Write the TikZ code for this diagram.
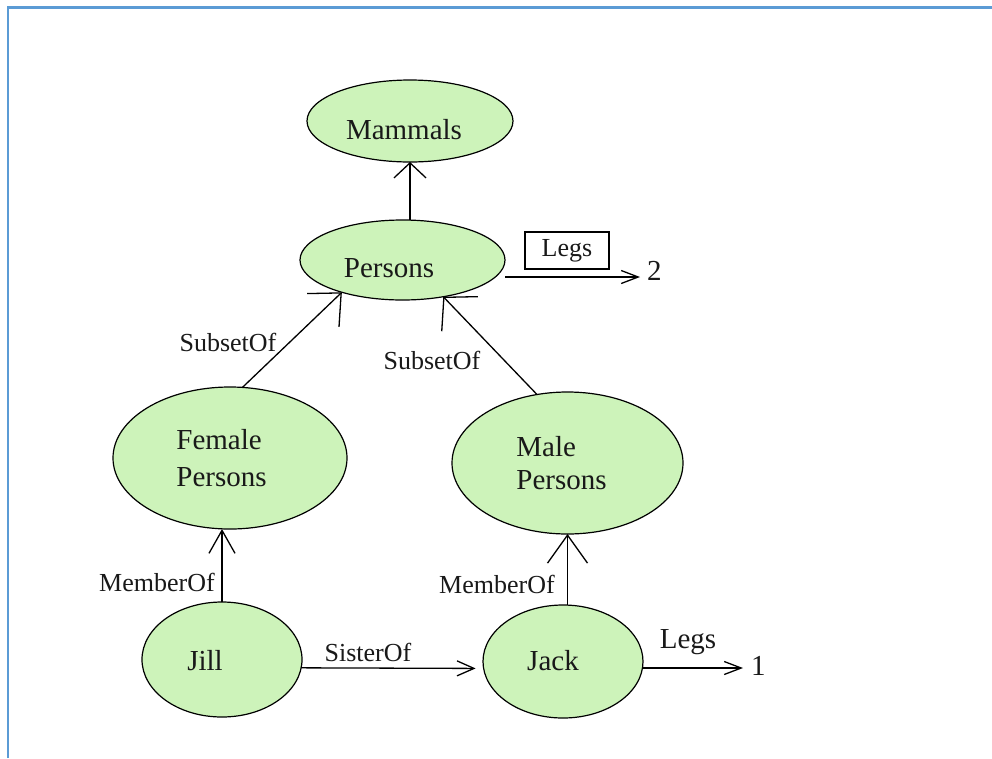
\documentclass[tikz,border=0pt]{standalone}
\usepackage{fontspec}
\setmainfont{Liberation Serif}
\usetikzlibrary{shapes.geometric,arrows.meta,calc}
\definecolor{nodegreen}{RGB}{205,243,186}
\definecolor{framebl}{RGB}{91,155,213}
\begin{document}
\begin{tikzpicture}[x=1pt,y=-1pt,
  ell/.style={ellipse,draw=black,line width=1.2pt,fill=nodegreen,inner sep=0pt,outer sep=0pt},
  ntext/.style={font=\fontsize{29}{35}\selectfont,inner sep=0pt,text=black!90},
  lab/.style={font=\fontsize{26}{31}\selectfont,inner sep=0pt,text=black!90},
  conn/.style={line width=1.3pt,black},
  arrM/.style={conn,-{Straight Barb[length=15pt,width=32pt]}},
  arrSub/.style={conn,-{Straight Barb[length=25pt,width=46pt]}},
  arrSubR/.style={conn,-{Straight Barb[length=23pt,width=50pt]}},
  arrMemL/.style={conn,-{Straight Barb[length=23pt,width=26pt]}},
  arrMemR/.style={conn,-{Straight Barb[length=28pt,width=40pt]}},
  arrS/.style={conn,-{Straight Barb[length=17pt,width=15pt]}},
  arrL/.style={conn,-{Straight Barb[length=17pt,width=13pt]}}]
\useasboundingbox (0,0) rectangle (992,758);
\draw[framebl,line width=2.5pt] (8,758) -- (8,7.5) -- (992,7.5);

% ellipses
\node[ell,minimum width=206pt,minimum height=82pt] (mammals) at (410,121) {};
\node[ell,minimum width=205pt,minimum height=80pt] (persons) at (402.5,260) {};
\node[ell,minimum width=234pt,minimum height=142pt] (female) at (230,458) {};
\node[ell,minimum width=231pt,minimum height=142pt] (male) at (567.5,463) {};
\node[ell,minimum width=160pt,minimum height=115pt] (jill) at (222,659.5) {};
\node[ell,minimum width=160pt,minimum height=113pt] (jack) at (563,661.5) {};

% node texts
\node[ntext] (mammalsT) at (404,130) {Mammals};
\node[ntext] (personsT) at (389,268) {Persons};
\node[ntext,align=left,font=\fontsize{29}{37}\selectfont] (femaleT) at (221.5,458.5) {Female\\Persons};
\node[ntext,align=left,font=\fontsize{29}{33}\selectfont] (maleT) at (561.5,463.5) {Male\\Persons};
\node[ntext] (jillT) at (205,661) {Jill};
\node[ntext] (jackT) at (553,661) {Jack};

% labels
\node[lab,draw=black,line width=1.2pt,minimum width=84pt,minimum height=37pt] (legsbox) at (567,250.5) {\raisebox{-4pt}{Legs}};
\node[lab] (sub1) at (228,342) {SubsetOf};
\node[lab] (sub2) at (432,360) {SubsetOf};
\node[lab] (mem1) at (157,582) {MemberOf};
\node[lab] (mem2) at (497,584) {MemberOf};
\node[lab] (sis) at (368,652) {SisterOf};
\node[lab,font=\fontsize{29}{35}\selectfont,anchor=base] (legs1) at (688,648) {Legs};
\node[ntext,anchor=base west] (two) at (647,280) {2};
\node[ntext,anchor=base west] (one) at (751,675) {1};

% connectors
\draw[arrM] (mammals.south |- persons.north) -- (mammals.south);
\draw[arrSub] (female.80) -- (persons.208);
\draw[arrSubR] (male.114) -- (persons.318);
\draw[arrMemL] (jill.north) -- (jill.north |- female.south);
\draw[arrMemR] (male.south |- jack.north) -- (male.south);
\draw[arrS,shorten >=8pt] (jill.-6) -- (jack.185);
\coordinate (pout) at ([yshift=-17pt]persons.east);
\draw[arrL,shorten >=7pt] (pout) -- (pout -| two.west);
\coordinate (jout) at ([yshift=-6.5pt]jack.east);
\draw[arrL,shorten >=8pt] (jout) -- (jout -| one.west);
\end{tikzpicture}
\end{document}
